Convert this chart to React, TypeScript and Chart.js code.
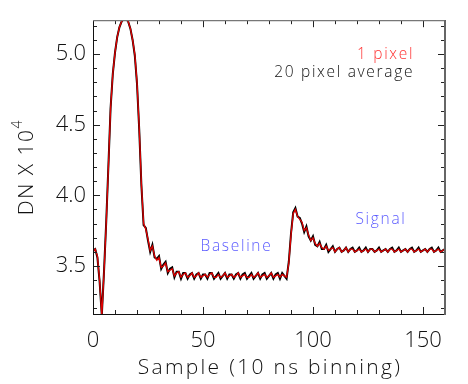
import React, { useEffect, useRef } from "react";
import { Chart, registerables } from "chart.js";

Chart.register(...registerables);

// Sample index along the x axis (10 ns bins)
const samples: number[] = Array.from({ length: 161 }, (_, i) => i);

// DN / 10^4, single pixel
const onePixel: number[] = [
  3.60, 3.62, 3.57, 3.40, 3.15, 3.45, 3.80, 4.20, 4.62, 4.86,
  5.01, 5.12, 5.19, 5.23, 5.25, 5.25, 5.23, 5.18, 5.10, 5.00,
  4.80, 4.48, 4.08, 3.80, 3.76, 3.69, 3.61, 3.64, 3.57, 3.54,
  3.56, 3.49, 3.50, 3.52, 3.46, 3.47, 3.48, 3.43, 3.45, 3.46,
  3.42, 3.44, 3.45, 3.42, 3.43, 3.45, 3.42, 3.43, 3.45, 3.42,
  3.43, 3.44, 3.42, 3.44, 3.45, 3.42, 3.42, 3.44, 3.42, 3.43,
  3.45, 3.42, 3.43, 3.44, 3.42, 3.43, 3.45, 3.42, 3.43, 3.44,
  3.42, 3.42, 3.44, 3.42, 3.43, 3.45, 3.42, 3.43, 3.44, 3.42,
  3.43, 3.45, 3.42, 3.43, 3.44, 3.42, 3.44, 3.43, 3.42, 3.52,
  3.72, 3.87, 3.90, 3.85, 3.83, 3.81, 3.75, 3.77, 3.72, 3.68,
  3.70, 3.66, 3.64, 3.66, 3.63, 3.62, 3.64, 3.61, 3.62, 3.63,
  3.60, 3.62, 3.63, 3.60, 3.61, 3.63, 3.60, 3.62, 3.62, 3.60,
  3.61, 3.62, 3.60, 3.61, 3.62, 3.60, 3.62, 3.62, 3.60, 3.61,
  3.62, 3.60, 3.61, 3.62, 3.60, 3.62, 3.62, 3.60, 3.61, 3.62,
  3.60, 3.61, 3.62, 3.60, 3.62, 3.62, 3.60, 3.61, 3.62, 3.60,
  3.61, 3.62, 3.60, 3.62, 3.62, 3.60, 3.61, 3.62, 3.60, 3.61,
  3.62,
];

// DN / 10^4, 20 pixel average
const avg20: number[] = [
  3.61, 3.62, 3.56, 3.39, 3.15, 3.46, 3.81, 4.21, 4.62, 4.86,
  5.01, 5.12, 5.19, 5.23, 5.25, 5.25, 5.23, 5.18, 5.10, 4.99,
  4.79, 4.47, 4.07, 3.79, 3.77, 3.68, 3.60, 3.65, 3.56, 3.55,
  3.57, 3.48, 3.51, 3.53, 3.45, 3.48, 3.49, 3.42, 3.46, 3.46,
  3.41, 3.45, 3.45, 3.41, 3.44, 3.45, 3.41, 3.44, 3.45, 3.41,
  3.44, 3.44, 3.41, 3.45, 3.45, 3.41, 3.43, 3.45, 3.41, 3.43,
  3.45, 3.41, 3.44, 3.44, 3.41, 3.44, 3.45, 3.41, 3.44, 3.45,
  3.41, 3.43, 3.45, 3.41, 3.43, 3.45, 3.41, 3.44, 3.45, 3.41,
  3.43, 3.45, 3.41, 3.44, 3.45, 3.41, 3.45, 3.43, 3.41, 3.53,
  3.73, 3.88, 3.91, 3.85, 3.84, 3.80, 3.74, 3.78, 3.71, 3.68,
  3.71, 3.65, 3.64, 3.67, 3.62, 3.62, 3.65, 3.60, 3.62, 3.64,
  3.60, 3.62, 3.63, 3.60, 3.61, 3.63, 3.60, 3.62, 3.63, 3.60,
  3.61, 3.63, 3.60, 3.61, 3.63, 3.60, 3.62, 3.62, 3.60, 3.61,
  3.63, 3.60, 3.61, 3.62, 3.60, 3.62, 3.63, 3.60, 3.61, 3.63,
  3.60, 3.61, 3.62, 3.60, 3.62, 3.63, 3.60, 3.61, 3.63, 3.60,
  3.61, 3.62, 3.60, 3.62, 3.63, 3.60, 3.61, 3.63, 3.60, 3.61,
  3.62,
];

const xTickValues: number[] = [0, 50, 100, 150];
const yTickValues: number[] = [3.5, 4.0, 4.5, 5.0];
const xTickLabels: string[] = ["0", "50", "100", "150"];
const yTickLabels: string[] = ["3.5", "4.0", "4.5", "5.0"];

const FONT = '"Open Sans"';
const W = "300";
const TEXT = "#111";

const framePlugin = {
  id: "frame",
  afterDraw(chart: any) {
    const { ctx, chartArea, scales } = chart;
    const { left, right, top, bottom } = chartArea;
    const x = scales.x;
    const y = scales.y;
    ctx.save();
    const seg = (x1: number, y1: number, x2: number, y2: number) => {
      ctx.beginPath();
      ctx.moveTo(x1, y1);
      ctx.lineTo(x2, y2);
      ctx.stroke();
    };
    ctx.strokeStyle = "#222";
    ctx.lineWidth = 1;
    // x ticks (bottom & top), every 10, major every 50
    for (let v = 0; v <= 160; v += 10) {
      const px = Math.round(x.getPixelForValue(v)) + 0.5;
      const len = v % 50 === 0 ? 7 : 4;
      seg(px, bottom, px, bottom - len);
      seg(px, top, px, top + len);
    }
    // y ticks (left & right), every 0.1, major every 0.5
    for (let k = 32; k <= 52; k++) {
      const py = Math.round(y.getPixelForValue(k / 10)) + 0.5;
      const len = k % 5 === 0 ? 7 : 4;
      seg(left, py, left + len, py);
      seg(right, py, right - len, py);
    }
    // frame
    ctx.strokeStyle = "#111";
    ctx.lineWidth = 1;
    seg(left + 0.5, top, left + 0.5, bottom);
    seg(left, bottom + 0.5, right, bottom + 0.5);
    ctx.strokeStyle = "#777";
    ctx.lineWidth = 1.2;
    seg(left, top + 0.5, right, top + 0.5);
    ctx.strokeStyle = "#666";
    ctx.lineWidth = 2;
    seg(right, top, right, bottom + 1);

    // annotations
    const put = (txt: string, vx: number, vy: number, color: string, size: number, align: CanvasTextAlign) => {
      ctx.font = `${W} ${size}px ${FONT}`;
      ctx.fillStyle = color;
      ctx.textAlign = align;
      ctx.textBaseline = "middle";
      ctx.fillText(txt, x.getPixelForValue(vx), y.getPixelForValue(vy));
    };
    (ctx as any).letterSpacing = "1.7px";
    put("1 pixel", 146, 5.0, "#ff3333", 15.5, "right");
    put("20 pixel average", 146, 4.866, TEXT, 15.5, "right");
    put("Baseline", 65.2, 3.636, "#5a5aff", 15.5, "center");
    put("Signal", 130.9, 3.83, "#5a5aff", 15.5, "center");

    // axis titles
    (ctx as any).letterSpacing = "2.3px";
    ctx.font = `${W} 21px ${FONT}`;
    ctx.fillStyle = TEXT;
    ctx.textAlign = "center";
    ctx.textBaseline = "middle";
    ctx.fillText("Sample (10 ns binning)", (left + right) / 2 + 1, 368);

    (ctx as any).letterSpacing = "1.5px";
    ctx.translate(27, (top + bottom) / 2);
    ctx.rotate(-Math.PI / 2);
    ctx.textAlign = "left";
    const main = "DN X 10";
    ctx.font = `${W} 21px ${FONT}`;
    const w1 = ctx.measureText(main).width;
    ctx.font = `${W} 14px ${FONT}`;
    const w2 = ctx.measureText("4").width;
    const start = -(w1 + w2) / 2;
    ctx.font = `${W} 21px ${FONT}`;
    ctx.fillText(main, start, 0);
    ctx.font = `${W} 14px ${FONT}`;
    ctx.fillText("4", start + w1, -9);
    ctx.restore();
  },
};

export default function App() {
  const ref = useRef<HTMLCanvasElement | null>(null);
  useEffect(() => {
    document.body.style.margin = "0";
    const canvas = ref.current;
    if (!canvas) return;
    const chart = new Chart(canvas, {
      type: "line",
      data: {
        datasets: [
          {
            label: "1 pixel",
            data: samples.map((s, i) => ({ x: s, y: onePixel[i] })),
            borderColor: "#e00000",
            borderWidth: 1.3,
            pointRadius: 0,
            tension: 0,
            order: 0,
          },
          {
            label: "20 pixel average",
            data: samples.map((s, i) => ({ x: s, y: avg20[i] })),
            borderColor: "#000000",
            borderWidth: 2,
            pointRadius: 0,
            tension: 0,
            order: 1,
          },
        ],
      },
      options: {
        responsive: false,
        animation: false,
        layout: { padding: { left: 0, top: 19, right: 23, bottom: 0 } },
        plugins: { legend: { display: false }, tooltip: { enabled: false } },
        scales: {
          x: {
            type: "linear",
            min: 0,
            max: 160,
            grid: { display: false, drawTicks: false },
            border: { display: false },
            afterBuildTicks: (s: any) => {
              s.ticks = xTickValues.map((v) => ({ value: v }));
            },
            afterFit: (s: any) => {
              s.height = 70;
            },
            ticks: {
              autoSkip: false,
              maxRotation: 0,
              padding: 14,
              color: TEXT,
              font: { family: FONT, size: 22, weight: W },
              callback: (v: any) => xTickLabels[xTickValues.indexOf(Number(v))] ?? "",
            },
          },
          y: {
            type: "linear",
            min: 3.16,
            max: 5.24,
            grid: { display: false, drawTicks: false },
            border: { display: false },
            afterBuildTicks: (s: any) => {
              s.ticks = yTickValues.map((v) => ({ value: v }));
            },
            afterFit: (s: any) => {
              s.width = 93;
            },
            ticks: {
              autoSkip: false,
              padding: 7,
              color: TEXT,
              font: { family: FONT, size: 22, weight: W },
              callback: (v: any) => yTickLabels[yTickValues.indexOf(Number(v))] ?? "",
            },
          },
        },
      },
      plugins: [framePlugin],
    });
    return () => chart.destroy();
  }, []);
  return (
    <div style={{ width: 468, height: 384 }}>
      <canvas ref={ref} width={468} height={384} style={{ display: "block" }} />
    </div>
  );
}
